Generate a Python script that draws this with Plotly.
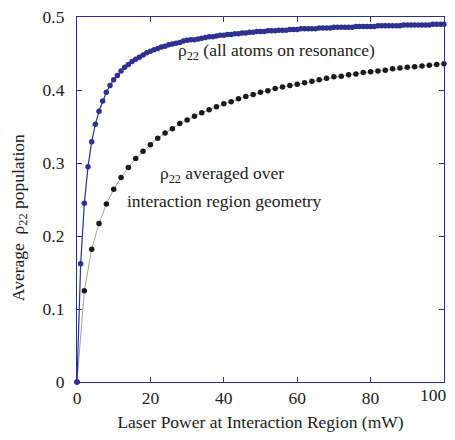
import plotly.graph_objects as go

# Blue: rho22 for all atoms on resonance, every 1 mW
power_blue = list(range(0, 101))
rho_blue = [
    0.000, 0.162, 0.245, 0.295, 0.329, 0.353, 0.371, 0.385, 0.397, 0.406,
    0.414, 0.420, 0.426, 0.431, 0.435, 0.439, 0.442, 0.445, 0.448, 0.451,
    0.453, 0.455, 0.457, 0.459, 0.460, 0.462, 0.463, 0.464, 0.465, 0.467,
    0.468, 0.469, 0.469, 0.470, 0.471, 0.472, 0.473, 0.473, 0.474, 0.475,
    0.475, 0.476, 0.476, 0.477, 0.477, 0.478, 0.478, 0.479, 0.479, 0.480,
    0.480, 0.480, 0.481, 0.481, 0.481, 0.482, 0.482, 0.482, 0.483, 0.483,
    0.483, 0.484, 0.484, 0.484, 0.484, 0.484, 0.485, 0.485, 0.485, 0.485,
    0.486, 0.486, 0.486, 0.486, 0.486, 0.486, 0.487, 0.487, 0.487, 0.487,
    0.487, 0.487, 0.488, 0.488, 0.488, 0.488, 0.488, 0.488, 0.488, 0.489,
    0.489, 0.489, 0.489, 0.489, 0.489, 0.489, 0.489, 0.490, 0.490, 0.490,
    0.490,
]

# Black: rho22 averaged over interaction region geometry, every 2 mW
power_black = list(range(0, 101, 2))
rho_black = [
    0.000, 0.125, 0.182, 0.217, 0.244, 0.264, 0.280, 0.294, 0.306, 0.316,
    0.325, 0.334, 0.341, 0.347, 0.354, 0.359, 0.364, 0.369, 0.373, 0.377,
    0.381, 0.384, 0.388, 0.391, 0.394, 0.397, 0.399, 0.402, 0.404, 0.406,
    0.408, 0.410, 0.412, 0.414, 0.416, 0.418, 0.419, 0.421, 0.422, 0.424,
    0.425, 0.426, 0.427, 0.429, 0.430, 0.431, 0.432, 0.433, 0.434, 0.435,
    0.436,
]

x_ticks = [0, 20, 40, 60, 80, 100]
x_tick_labels = ["0", "20", "40", "60", "80", "100"]
y_ticks = [0, 0.1, 0.2, 0.3, 0.4, 0.5]
y_tick_labels = ["0", "0.1", "0.2", "0.3", "0.4", "0.5"]

BLUE = "#2e3192"
FONT = "Times New Roman"
TXT = "#222222"
FS = 17.5

fig = go.Figure()
fig.add_trace(go.Scatter(
    x=power_black, y=rho_black, mode="lines+markers",
    line=dict(color="#8a8a8a", width=0.8),
    marker=dict(color="#1a1a1a", size=5.5),
    showlegend=False, cliponaxis=False,
))
fig.add_trace(go.Scatter(
    x=power_blue, y=rho_blue, mode="lines+markers",
    line=dict(color=BLUE, width=1.2),
    marker=dict(color=BLUE, size=5.5),
    showlegend=False, cliponaxis=False,
))

ann_font = dict(family=FONT, size=FS, color=TXT)
fig.add_annotation(x=26.9, y=0.453, xref="x", yref="y", xanchor="left", yanchor="middle",
                   text="ρ<sub>22</sub> (all atoms on resonance)", showarrow=False, font=ann_font)
fig.add_annotation(x=22.0, y=0.284, xref="x", yref="y", xanchor="left", yanchor="middle",
                   text="ρ<sub>22</sub> averaged over", showarrow=False, font=ann_font)
fig.add_annotation(x=13.0, y=0.2477, xref="x", yref="y", xanchor="left", yanchor="middle",
                   text="interaction region geometry", showarrow=False, font=ann_font)
fig.add_annotation(x=-0.157, y=0.45, xref="paper", yref="paper", xanchor="center", yanchor="middle",
                   text="Average  ρ<sub>22</sub> population", textangle=-90, showarrow=False,
                   font=ann_font)
# last x tick label, kept inside the page's right edge
fig.add_annotation(x=x_ticks[-1], y=0, xref="x", yref="paper", xanchor="right", yanchor="top",
                   xshift=4, yshift=-2, text=x_tick_labels[-1], showarrow=False,
                   font=ann_font, borderpad=0)

axis_common = dict(
    showgrid=False, zeroline=False, showline=True, linecolor=BLUE, linewidth=1.2,
    mirror="ticks", ticks="inside", ticklen=5, tickcolor=BLUE, tickwidth=1,
    tickfont=dict(family=FONT, size=FS, color=TXT), automargin=False,
    ticklabeloverflow="allow",
)

fig.update_xaxes(range=[0, 100], tickvals=x_ticks,
                 ticktext=x_tick_labels[:-1] + [""], ticklabelstandoff=0,
                 title=dict(text="Laser Power at Interaction Region (mW)",
                            font=dict(family=FONT, size=FS, color=TXT), standoff=10),
                 **axis_common)
fig.update_yaxes(range=[0, 0.5], tickvals=y_ticks, ticktext=y_tick_labels, ticklabelstandoff=8,
                 **axis_common)

# page body has an 8px margin; size and margins compensate for it (no page scrolling)
fig.update_layout(
    width=447, height=424,
    margin=dict(l=69, r=11, t=9, b=49.5),
    paper_bgcolor="white", plot_bgcolor="white",
    font=dict(family=FONT, color=TXT),
)

fig.write_html("out.html")
